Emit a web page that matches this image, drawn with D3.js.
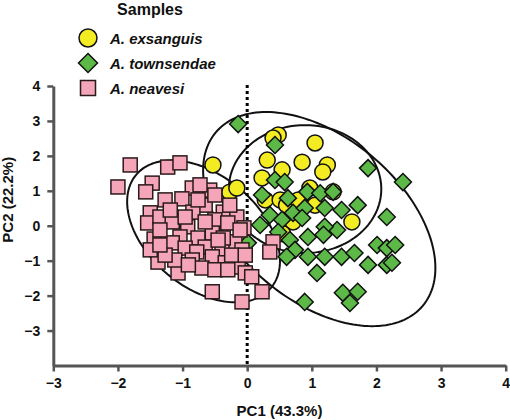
<!DOCTYPE html>
<html><head><meta charset="utf-8">
<script src="https://cdn.jsdelivr.net/npm/d3@7"></script>
<style>
html,body{margin:0;padding:0;background:#fff;}
svg{display:block;font-family:"Liberation Sans",Arial,sans-serif;}
</style></head>
<body>
<svg id="chart" width="510" height="420"></svg>
<script>
// ---- data ----
const xTicks = [-3,-2,-1,0,1,2,3,4];
const yTicks = [-3,-2,-1,0,1,2,3,4];
const seriesNames = ["A. exsanguis","A. townsendae","A. neavesi"];
const xTitle = "PC1 (43.3%)";
const yTitle = "PC2 (22.2%)";
const legendTitle = "Samples";

const exsanguisX = [0.48,0.40,1.05,0.31,0.85,1.24,1.17,0.54,0.23,0.28,0.97,1.33,0.51,0.61,0.79,1.05,1.62,0.71,0.55,-0.53,-0.27,-0.16];
const exsanguisY = [2.60,2.51,2.37,1.88,1.82,1.74,1.54,1.60,1.37,0.74,1.08,0.97,0.74,0.59,0.74,0.59,0.11,0.11,-0.23,1.74,0.96,1.08];

const townsendaeX = [-0.14,0.43,1.87,2.41,0.43,0.58,0.23,0.63,0.93,1.13,1.33,1.71,0.35,0.71,0.89,1.20,1.46,0.54,0.85,1.39,1.20,2.16,0.94,0.66,0.74,0.61,0.94,1.20,1.46,1.66,2.01,2.16,2.29,1.87,2.16,2.24,1.08,1.48,1.71,1.59,0.89,1.18,0.01,0.48,0.20];
const townsendaeY = [2.91,2.31,1.65,1.25,1.31,1.25,0.88,0.79,0.97,0.93,0.97,0.59,0.31,0.37,0.51,0.51,0.45,0.17,0.22,-0.12,-0.03,0.25,-0.32,-0.41,-0.69,-0.89,-0.89,-0.89,-0.89,-0.78,-0.55,-0.64,-0.55,-1.12,-1.12,-1.06,-1.35,-1.92,-1.89,-2.21,-2.18,-0.26,-0.49,-0.18,0.02];

const neavesiX = [-1.81,-2.00,-1.47,-1.57,-1.23,-1.04,-1.27,-1.50,-1.54,-1.35,-1.44,-1.38,-1.07,-0.85,-0.58,-1.01,-0.65,-0.84,-0.37,-0.16,-1.16,-0.92,-0.50,-0.30,-0.05,-1.04,-0.76,-0.54,-0.19,-1.16,-0.96,-0.65,-0.39,-0.08,-0.78,-1.12,-0.85,-0.54,-0.34,-0.14,-0.70,-0.50,-0.30,-0.54,-0.08,-0.03,-0.96,-0.76,-0.11,-0.37,-1.35,-1.50,-1.27,0.23,0.07,0.40,0.35,-1.19,-0.65,-0.27,-0.45,-0.91,-0.24,-1.35,-0.73,-0.50,-0.03];
const neavesiY = [1.74,1.11,1.22,0.97,1.68,1.80,0.74,0.37,0.08,0.25,-0.38,-1.04,-1.35,1.08,1.02,0.77,0.59,0.39,0.39,0.25,0.11,-0.03,0.17,0.08,-0.06,-0.32,-0.35,-0.21,-0.46,-0.49,-0.64,-0.61,-0.69,-0.69,-0.75,-0.98,-0.98,-0.89,-1.06,-1.18,-1.21,-1.26,-1.26,-1.89,-2.18,-1.35,0.25,0.74,-0.12,-0.35,-0.12,-0.69,-0.84,-1.89,-1.46,-0.46,-0.75,0.45,0.11,0.59,-0.41,-1.12,-0.84,-0.55,1.17,0.88,-0.84];

// confidence ellipses: centre and two semi-axis vectors, in data units
const ellipseCenters = [[-0.675,-0.16],[1.115,0.19],[0.895,1.05]];
const ellipseAxisA   = [[1.043,-1.619],[1.601,-2.483],[1.18,0]];
const ellipseAxisB   = [[-0.557,-1.227],[-0.816,-1.796],[0,1.83]];

// ---- chart ----
const svg = d3.select("#chart");
const x = d3.scaleLinear().domain([-3,4]).range([53.3,505.7]);
const y = d3.scaleLinear().domain([-4,4]).range([365.5,86]);
const axisColor = "#555";

// ellipses
const line = d3.line().x(d=>x(d[0])).y(d=>y(d[1])).curve(d3.curveLinearClosed);
ellipseCenters.forEach((c,i)=>{
  const a = ellipseAxisA[i], b = ellipseAxisB[i];
  const pts = d3.range(0,360,2).map(t=>{
    const r = t*Math.PI/180;
    return [c[0]+a[0]*Math.cos(r)+b[0]*Math.sin(r), c[1]+a[1]*Math.cos(r)+b[1]*Math.sin(r)];
  });
  svg.append("path").attr("d", line(pts)).attr("fill","none").attr("stroke","#111").attr("stroke-width",2);
});

// dotted zero line
svg.append("line").attr("x1",x(0)).attr("x2",x(0)).attr("y1",y(4)-1).attr("y2",y(-4))
  .attr("stroke","#000").attr("stroke-width",3).attr("stroke-dasharray","3,3");

// points
const exs = exsanguisX.map((v,i)=>[v,exsanguisY[i]]);
const tow = townsendaeX.map((v,i)=>[v,townsendaeY[i]]);
const nea = neavesiX.map((v,i)=>[v,neavesiY[i]]);
const cYellow = "#f4ec22", cGreen = "#5cb947", cPink = "#f4a6b8";

svg.append("g").selectAll("circle").data(exs).join("circle")
  .attr("cx",d=>x(d[0])).attr("cy",d=>y(d[1])).attr("r",8)
  .attr("fill",cYellow).attr("stroke","#111").attr("stroke-width",1.5);

const dia = h => `M0,${-h}L${h},0L0,${h}L${-h},0Z`;
svg.append("g").selectAll("path").data(tow).join("path")
  .attr("d",dia(8.5)).attr("transform",d=>`translate(${x(d[0])},${y(d[1])})`)
  .attr("fill",cGreen).attr("stroke","#111").attr("stroke-width",1.5);

svg.append("g").selectAll("rect").data(nea).join("rect")
  .attr("x",d=>x(d[0])-7).attr("y",d=>y(d[1])-7).attr("width",14).attr("height",14)
  .attr("fill",cPink).attr("stroke","#2a1a1a").attr("stroke-width",1.5);

// axes
const xAxis = svg.append("g").attr("transform",`translate(0,${y(-4)})`)
  .call(d3.axisBottom(x).tickValues(xTicks).tickSize(6).tickSizeOuter(0).tickPadding(7).tickFormat(d3.format("d")));
const yAxis = svg.append("g").attr("transform",`translate(${x(-3)},0)`)
  .call(d3.axisLeft(y).tickValues(yTicks).tickSize(6).tickSizeOuter(0).tickPadding(7).tickFormat(d3.format("d")));
[xAxis,yAxis].forEach(g=>{
  g.select(".domain").attr("stroke",axisColor).attr("stroke-width",3);
  g.selectAll(".tick line").attr("stroke",axisColor).attr("stroke-width",2.5);
  g.selectAll(".tick text").attr("fill","#111").attr("font-size",14).attr("font-weight","bold")
    .attr("font-family",'"Liberation Sans",Arial,sans-serif');
});

// axis titles
svg.append("text").attr("x",(x(-3)+x(4))/2).attr("y",416).attr("text-anchor","middle")
  .attr("font-size",15).attr("font-weight","bold").attr("fill","#111").text(xTitle);
svg.append("text").attr("transform",`translate(13,${(y(-4)+y(4))/2 - 26}) rotate(-90)`)
  .attr("text-anchor","middle").attr("font-size",15).attr("font-weight","bold").attr("fill","#111").text(yTitle);

// legend
svg.append("text").attr("x",150).attr("y",15).attr("text-anchor","middle")
  .attr("font-size",16).attr("font-weight","bold").attr("fill","#111").text(legendTitle);
const legY = [38,63,88];
const lg = svg.append("g");
lg.append("circle").attr("cx",88).attr("cy",legY[0]).attr("r",9)
  .attr("fill",cYellow).attr("stroke","#111").attr("stroke-width",1.5);
lg.append("path").attr("d",dia(9.5)).attr("transform",`translate(88,${legY[1]})`)
  .attr("fill",cGreen).attr("stroke","#111").attr("stroke-width",1.5);
lg.append("rect").attr("x",88-7.5).attr("y",legY[2]-7.5).attr("width",15).attr("height",15)
  .attr("fill",cPink).attr("stroke","#2a1a1a").attr("stroke-width",1.5);
seriesNames.forEach((n,i)=>{
  lg.append("text").attr("x",110).attr("y",legY[i]+5.5).attr("font-size",15)
    .attr("font-weight","bold").attr("font-style","italic").attr("fill","#111").text(n);
});
</script>
</body></html>
